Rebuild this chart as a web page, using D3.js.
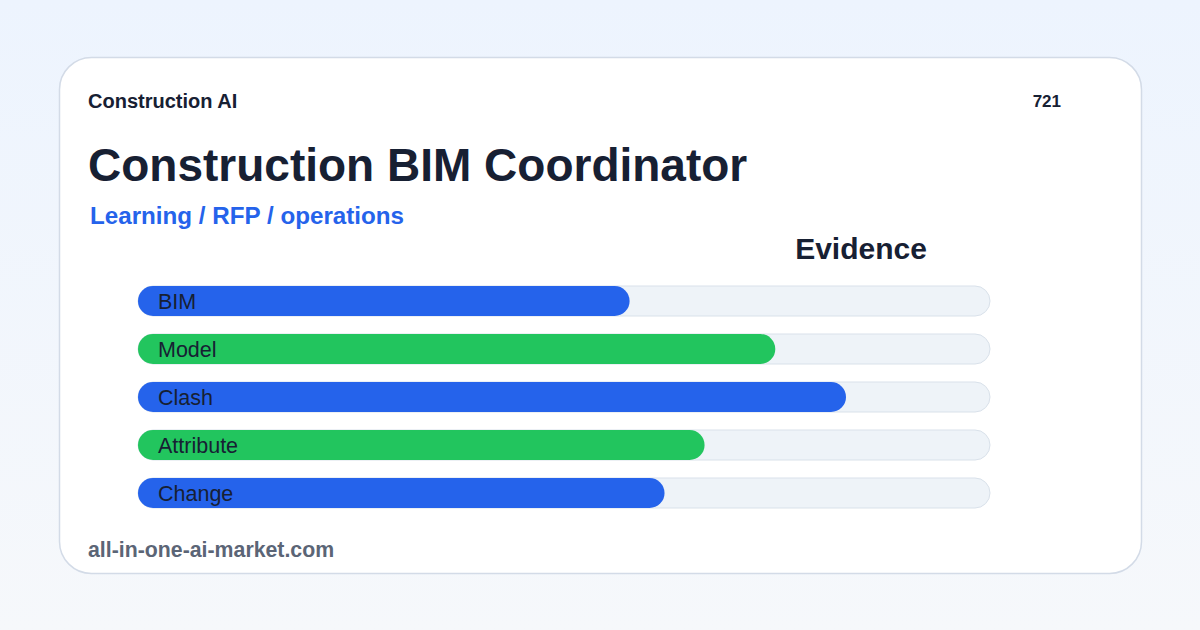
<!DOCTYPE html>
<html>
<head>
<meta charset="utf-8">
<script src="https://cdn.jsdelivr.net/npm/d3@7"></script>
<style>
	html, body { margin: 0; padding: 0; }
	body { width: 1200px; height: 630px; overflow: hidden; font-family: "Liberation Sans", Arial, sans-serif; }
</style>
</head>
<body>
<div id="chart"></div>
<script>
const width = 1200;
const height = 630;

// chart data
const categories = ["BIM", "Model", "Clash", "Attribute", "Change"];
const scores = [57.7, 74.8, 83.1, 66.5, 61.8];
const barColors = ["#2563eb", "#22c55e", "#2563eb", "#22c55e", "#2563eb"];

const brand = "Construction AI";
const badge = "721";
const title = "Construction BIM Coordinator";
const subtitle = "Learning / RFP / operations";
const chartTitle = "Evidence";
const footer = "all-in-one-ai-market.com";

const svg = d3
	.select("#chart")
	.append("svg")
	.attr("width", width)
	.attr("height", height);

const defs = svg.append("defs");
const bg = defs
	.append("linearGradient")
	.attr("id", "bgGrad")
	.attr("x1", "0")
	.attr("y1", "0")
	.attr("x2", "0")
	.attr("y2", "1");
bg.append("stop").attr("offset", "0%").attr("stop-color", "#edf4fe");
bg.append("stop").attr("offset", "100%").attr("stop-color", "#f6f8fb");

svg.append("rect").attr("width", width).attr("height", height).attr("fill", "url(#bgGrad)");

// card
svg.append("rect")
	.attr("x", 59.5)
	.attr("y", 57.5)
	.attr("width", 1082)
	.attr("height", 516)
	.attr("rx", 32)
	.attr("fill", "#ffffff")
	.attr("stroke", "#d3dbe7")
	.attr("stroke-width", 1.5);

svg.append("text")
	.attr("x", 88)
	.attr("y", 108)
	.attr("font-size", 20)
	.attr("font-weight", "bold")
	.attr("fill", "#172033")
	.text(brand);

svg.append("text")
	.attr("x", 1061)
	.attr("y", 107)
	.attr("text-anchor", "end")
	.attr("font-size", 17)
	.attr("font-weight", "bold")
	.attr("fill", "#172033")
	.text(badge);

svg.append("text")
	.attr("x", 88)
	.attr("y", 181)
	.attr("font-size", 46)
	.attr("font-weight", "bold")
	.attr("fill", "#172033")
	.text(title);

svg.append("text")
	.attr("x", 90)
	.attr("y", 224)
	.attr("font-size", 24.2)
	.attr("font-weight", "bold")
	.attr("fill", "#2563eb")
	.text(subtitle);

svg.append("text")
	.attr("x", 861)
	.attr("y", 259)
	.attr("text-anchor", "middle")
	.attr("font-size", 30)
	.attr("font-weight", "bold")
	.attr("fill", "#172033")
	.text(chartTitle);

// bars
const x = d3.scaleLinear().domain([0, 100]).range([138, 990]);
const y = d3.scaleBand().domain(categories).range([286, 508]).paddingInner(0.375).paddingOuter(0);
const barH = y.bandwidth();

const rows = svg
	.selectAll(".row")
	.data(categories)
	.enter()
	.append("g")
	.attr("class", "row")
	.attr("transform", (d) => `translate(0, ${y(d)})`);

rows.append("rect")
	.attr("x", x(0))
	.attr("width", x(100) - x(0))
	.attr("height", barH)
	.attr("rx", barH / 2)
	.attr("fill", "#eef3f8")
	.attr("stroke", "#d9e1ea")
	.attr("stroke-width", 1);

rows.append("rect")
	.attr("x", x(0))
	.attr("width", (_d, i) => x(scores[i]) - x(0))
	.attr("height", barH)
	.attr("rx", barH / 2)
	.attr("fill", (_d, i) => barColors[i]);

rows.append("text")
	.attr("x", x(0) + 20)
	.attr("y", barH / 2 + 7.5)
	.attr("font-size", 21.5)
	.attr("fill", "#172033")
	.text((d) => d);

svg.append("text")
	.attr("x", 88)
	.attr("y", 557)
	.attr("font-size", 21.3)
	.attr("font-weight", "bold")
	.attr("fill", "#5b6576")
	.text(footer);
</script>
</body>
</html>
